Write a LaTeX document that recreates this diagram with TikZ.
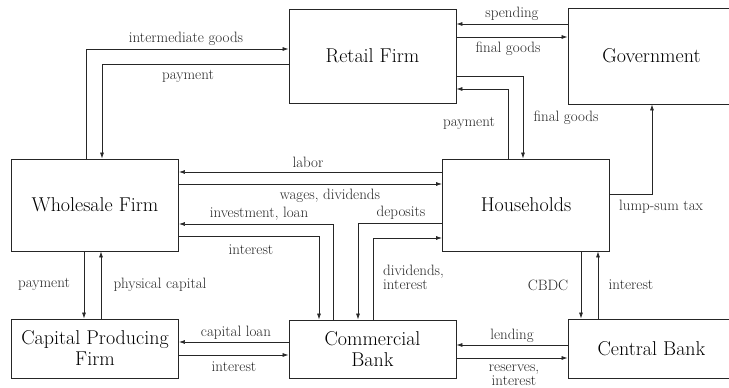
\documentclass[tikz,border=0pt]{standalone}
\usetikzlibrary{arrows.meta}

\begin{document}
\begin{tikzpicture}[
  x=1pt, y=-1pt,
  every node/.style={font=\fontsize{15}{16}\selectfont},
  agent/.style={rectangle, draw=black!85, line width=0.9pt, minimum width=167pt, align=center, font=\fontsize{20}{21}\selectfont},
  flow/.style={-{Latex[length=6pt,width=4pt]}, draw=black!85, line width=0.7pt},
  lbl/.style={inner sep=1pt, align=center, text=black!85}
]
  \clip (0,0) rectangle (729,388);
  \useasboundingbox (0,0) rectangle (729,388);

  % agents
  \node[agent, minimum height=94pt] (retail) at (372.5,56) {Retail Firm};
  \node[agent, minimum height=96pt] (gov) at (651.5,56) {Government};
  \node[agent, minimum height=92pt] (whole) at (95,205) {Wholesale Firm};
  \node[agent, minimum height=92pt] (house) at (526,205) {Households};
  \node[agent, minimum height=59pt] (cap) at (95,348.5) {Capital Producing\\Firm};
  \node[agent, minimum height=58pt] (bank) at (372.5,349) {Commercial\\Bank};
  \node[agent, minimum height=59pt] (central) at (651.5,348.5) {Central Bank};

  % goods and payments at the top
  \draw[flow] (whole.north -| 86,0) |- (retail.west |- 0,49);
  \draw[flow] (retail.west |- 0,64) -| (whole.north -| 102,0);
  \draw[flow] (gov.west |- 0,24) -- (retail.east |- 0,24);
  \draw[flow] (retail.east |- 0,37) -- (gov.west |- 0,37);
  \draw[flow] (retail.east |- 0,76) -| (house.north -| 523,0);
  \draw[flow] (house.north -| 508,0) |- (retail.east |- 0,89);
  \draw[flow] (house.east |- 0,194) -| (gov.south -| 652,0);

  % middle row
  \draw[flow] (house.west |- 0,172) -- (whole.east |- 0,172);
  \draw[flow] (whole.east |- 0,184) -- (house.west |- 0,184);
  \draw[flow] (bank.north -| 333,0) |- (whole.east |- 0,224);
  \draw[flow] (whole.east |- 0,236) -| (bank.north -| 319,0);
  \draw[flow] (house.west |- 0,223) -| (bank.north -| 358,0);
  \draw[flow] (bank.north -| 373,0) |- (house.west |- 0,238);

  % down to the bottom row
  \draw[flow] (whole.south -| 84,0) -- (cap.north -| 84,0);
  \draw[flow] (cap.north -| 101,0) -- (whole.south -| 101,0);
  \draw[flow] (house.south -| 581,0) -- (central.north -| 581,0);
  \draw[flow] (central.north -| 598,0) -- (house.south -| 598,0);

  % bottom row
  \draw[flow] (bank.west |- 0,342) -- (cap.east |- 0,342);
  \draw[flow] (cap.east |- 0,355) -- (bank.west |- 0,355);
  \draw[flow] (central.west |- 0,345) -- (bank.east |- 0,345);
  \draw[flow] (bank.east |- 0,358) -- (central.west |- 0,358);

  % labels
  \node[lbl] (l-inter) at (186,39) {intermediate goods};
  \node[lbl] (l-pay1) at (188,76) {payment};
  \node[lbl] (l-spend) at (512,14) {spending};
  \node[lbl] (l-final1) at (508,49) {final goods};
  \node[lbl] (l-final2) at (566,118) {final goods};
  \node[lbl] (l-pay2) at (469,123) {payment};
  \node[lbl] (l-tax) at (661,207) {lump-sum tax};
  \node[lbl] (l-labor) at (308,162) {labor};
  \node[lbl] (l-wages) at (330,196) {wages, dividends};
  \node[lbl] (l-invest) at (259,214) {investment, loan};
  \node[lbl] (l-int1) at (251,250) {interest};
  \node[lbl] (l-dep) at (401,213) {deposits};
  \node[lbl, align=left, anchor=west] (l-div) at (382,277) {dividends,\\[-2pt]interest};
  \node[lbl] (l-pay3) at (44,284) {payment};
  \node[lbl] (l-phys) at (160,285) {physical capital};
  \node[lbl] (l-caploan) at (236,333) {capital loan};
  \node[lbl] (l-int2) at (234,367) {interest};
  \node[lbl] (l-lend) at (512,336) {lending};
  \node[lbl] (l-res) at (514,375) {reserves,\\[-2pt]interest};
  \node[lbl] (l-cbdc) at (548,285) {CBDC};
  \node[lbl] (l-int3) at (631,285) {interest};
\end{tikzpicture}
\end{document}
